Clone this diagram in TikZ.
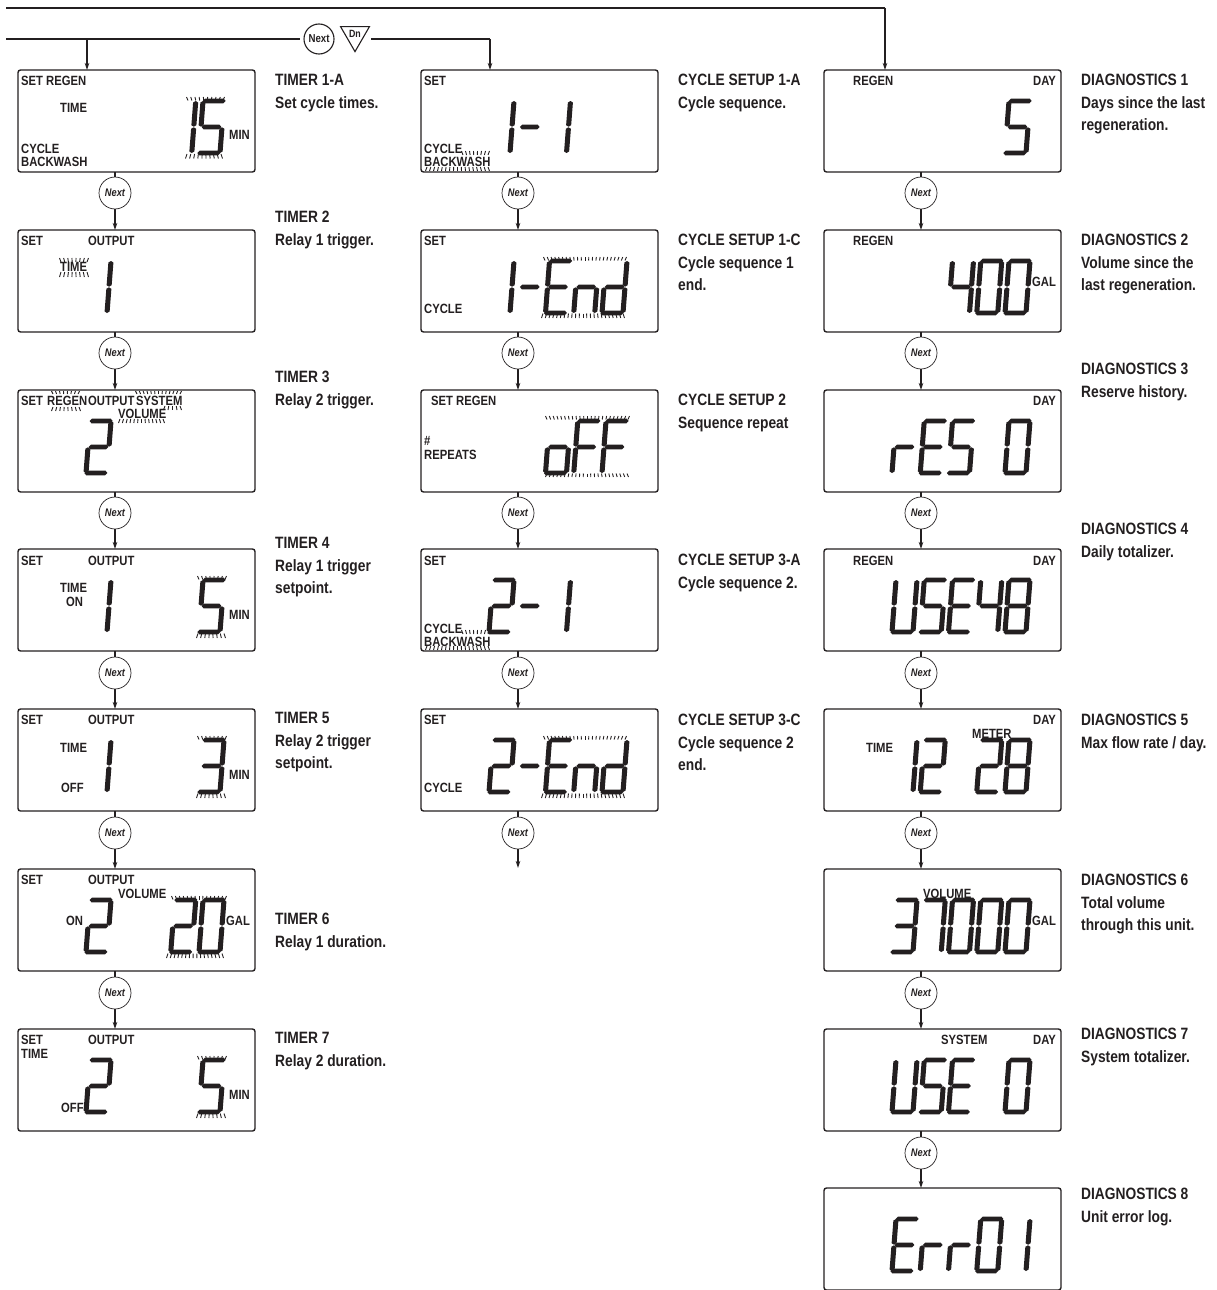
\documentclass[tikz,border=0pt]{standalone}
\usepackage{fontspec}
\setmainfont[FakeStretch=0.84]{Liberation Sans}
\usetikzlibrary{arrows.meta,shapes.geometric}
\definecolor{ink}{HTML}{231F20}
\newcounter{tn}
\tikzset{
  lcdbox/.style={draw=ink,line width=1.4pt,rounded corners=2.5pt,minimum width=237pt,minimum height=102pt,inner sep=0pt,outer sep=0pt,anchor=north west},
  nextc/.style={circle,draw=ink,line width=0.7pt,fill=white,minimum size=32pt,inner sep=0pt,outer sep=0pt,font=\fontsize{11}{11}\selectfont\bfseries\itshape,text=ink},
  conn/.style={draw=ink,line width=1.1pt},
  connarrow/.style={conn,-{Stealth[length=7pt,width=4.5pt]}},
  toplink/.style={draw=ink,line width=1.5pt},
  seg/.style={fill=ink},
  tick/.style={draw=ink,line width=0.9pt},
  dtxt/.style={anchor=base west,inner sep=0pt,text=ink,font=\fontsize{13.4}{14}\selectfont\bfseries},
  lbltxt/.style={anchor=base west,inner sep=0pt,align=left,text=ink,font=\fontsize{16.4}{22.5}\selectfont\bfseries},
}
% tapered display segments, in the slanted unit frame of one digit
\newcommand\vseg[3]{\fill[seg] (#1,#2) -- (#1+.12,#2+.03) -- (#1+.12,#3-.03) -- (#1,#3) -- (#1-.12,#3-.03) -- (#1-.12,#2+.03) -- cycle;}
\newcommand\hseg[3]{\fill[seg] (#1,#3) -- (#1+.1,#3-.045) -- (#2-.1,#3-.045) -- (#2,#3) -- (#2-.1,#3+.045) -- (#1+.1,#3+.045) -- cycle;}
\def\sega{\hseg{-.02}{1.08}{0}}
\def\segb{\vseg{1}{.0}{.495}}
\def\segc{\vseg{1}{.505}{1}}
\def\segd{\hseg{-.08}{1.02}{1}}
\def\sege{\vseg{0}{.505}{1}}
\def\segf{\vseg{0}{.0}{.495}}
\def\segg{\hseg{.03}{.97}{.5}}
\def\gZero{a,b,c,d,e,f}\def\gOne{b,c}\def\gTwo{a,b,g,e,d}\def\gThree{a,b,g,c,d}
\def\gFour{f,g,b,c}\def\gFive{a,f,g,c,d}\def\gSeven{a,b,c}\def\gEight{a,b,c,d,e,f,g}
\def\gDash{g}\def\gU{b,c,d,e,f}\def\gE{a,f,g,e,d}\def\gr{e,g}\def\gn{e,g,c}
\def\gd{b,c,d,e,g}\def\go{c,d,e,g}\def\gF{a,f,g,e}\def\gx{}
% five glyph slots of one display, box left and top given
\newcommand\lcdigits[3]{%
  \foreach \g [count=\c from 0] in {#3}{%
    \edef\glist{\csname g\g\endcsname}%
    \pgfmathsetmacro\dx{#1+68+28.25*\c+4}%
    \pgfmathsetmacro\dy{#2+31}%
    \begin{scope}[shift={(\dx,\dy)},x={(21pt,0pt)},y={(-4pt,-52pt)}]
      \foreach \s in \glist {\csname seg\s\endcsname}
    \end{scope}
  }}
% row of blink ticks: x from, x to, inner y, outer y
\newcommand\tickrow[4]{%
  \pgfmathtruncatemacro\nt{round((#2-#1)/3.7)}%
  \foreach \i in {0,...,\nt}{%
    \pgfmathsetmacro\xx{#1+\i*(#2-#1)/\nt}%
    \pgfmathsetmacro\tk{(\xx-(#1+#2)/2)/((#2-#1)/2)*1.5}%
    \draw[tick] (\xx,#3) -- (\xx+\tk,#4);
  }}
\newcommand\dt[3]{\stepcounter{tn}\node[dtxt] (t\arabic{tn}) at (#1,#2) {#3};}
% label: x, baseline of first line, number of lines, text
\newcommand\lbl[4]{\stepcounter{tn}\node[lbltxt] (t\arabic{tn}) at (#1,#2+22.5*#3-22.5) {#4};}
\newcommand\nx[5]{%
  \node[nextc] (#1) at (#2,#3) {Next};
  \draw[conn] (#4.south -| #1) -- (#1);
  \draw[connarrow] (#1) -- (#5.north -| #1);}
\begin{document}
\begin{tikzpicture}[x=1pt,y=-1pt]
\useasboundingbox (0,0) rectangle (1217,1290);
% boxes
\node[lcdbox] (a1) at (18,70) {};
\node[lcdbox] (a2) at (18,230) {};
\node[lcdbox] (a3) at (18,390) {};
\node[lcdbox] (a4) at (18,549) {};
\node[lcdbox] (a5) at (18,709) {};
\node[lcdbox] (a6) at (18,869) {};
\node[lcdbox] (a7) at (18,1029) {};
\node[lcdbox] (b1) at (421,70) {};
\node[lcdbox] (b2) at (421,230) {};
\node[lcdbox] (b3) at (421,390) {};
\node[lcdbox] (b4) at (421,549) {};
\node[lcdbox] (b5) at (421,709) {};
\node[lcdbox] (c1) at (824,70) {};
\node[lcdbox] (c2) at (824,230) {};
\node[lcdbox] (c3) at (824,390) {};
\node[lcdbox] (c4) at (824,549) {};
\node[lcdbox] (c5) at (824,709) {};
\node[lcdbox] (c6) at (824,869) {};
\node[lcdbox] (c7) at (824,1029) {};
\node[lcdbox] (c8) at (824,1188) {};
% next buttons
\nx{na1}{115}{193}{a1}{a2}
\nx{na2}{115}{353}{a2}{a3}
\nx{na3}{115}{513}{a3}{a4}
\nx{na4}{115}{673}{a4}{a5}
\nx{na5}{115}{833}{a5}{a6}
\nx{na6}{115}{993}{a6}{a7}
\nx{nb1}{518}{193}{b1}{b2}
\nx{nb2}{518}{353}{b2}{b3}
\nx{nb3}{518}{513}{b3}{b4}
\nx{nb4}{518}{673}{b4}{b5}
\node[nextc] (nb5) at (518,833) {Next};
\coordinate (bend) at (518,868);
\draw[conn] (b5.south -| nb5) -- (nb5);
\draw[connarrow] (nb5) -- (bend);
\nx{nc1}{921}{193}{c1}{c2}
\nx{nc2}{921}{353}{c2}{c3}
\nx{nc3}{921}{513}{c3}{c4}
\nx{nc4}{921}{673}{c4}{c5}
\nx{nc5}{921}{833}{c5}{c6}
\nx{nc6}{921}{993}{c6}{c7}
\nx{nc7}{921}{1153}{c7}{c8}
% top routing
\node[circle,draw=ink,line width=1.1pt,minimum size=30pt,inner sep=0pt,outer sep=4pt,text=ink,font=\fontsize{11.5}{11.5}\selectfont\bfseries] (tn) at (319,39) {Next};
\node[regular polygon,regular polygon sides=3,shape border rotate=180,draw=ink,line width=1.1pt,minimum size=32pt,inner sep=0pt,text=ink,font=\fontsize{10.5}{10.5}\selectfont\bfseries] (td) at (355,35) {\raisebox{2pt}{Dn}};
\coordinate (s1) at (6,8);
\coordinate (s2) at (6,39);
\coordinate (tr) at (371,39);
\coordinate (j1) at (87,39);
\coordinate (ina) at (87,70);
\coordinate (inb) at (490,70);
\coordinate (inc) at (885,70);
\draw[toplink] (s1) -- (s1 -| inc);
\draw[connarrow] (s1 -| inc) -- (inc);
\draw[toplink] (s2) -- (tn);
\draw[connarrow] (j1) -- (ina);
\draw[toplink] (tr) -- (tr -| inb);
\draw[connarrow] (tr -| inb) -- (inb);
% digits column A
\lcdigits{18}{70}{x,x,x,One,Five}
\lcdigits{18}{230}{One,x,x,x,x}
\lcdigits{18}{390}{Two,x,x,x,x}
\lcdigits{18}{549}{One,x,x,x,Five}
\lcdigits{18}{709}{One,x,x,x,Three}
\lcdigits{18}{869}{Two,x,x,Two,Zero}
\lcdigits{18}{1029}{Two,x,x,x,Five}
% digits column B
\lcdigits{421}{70}{One,Dash,One,x,x}
\lcdigits{421}{230}{One,Dash,E,n,d}
\lcdigits{421}{390}{x,x,o,F,F}
\lcdigits{421}{549}{Two,Dash,One,x,x}
\lcdigits{421}{709}{Two,Dash,E,n,d}
% digits column C
\lcdigits{824}{70}{x,x,x,x,Five}
\lcdigits{824}{230}{x,x,Four,Zero,Zero}
\lcdigits{824}{390}{r,E,Five,x,Zero}
\lcdigits{824}{549}{U,Five,E,Four,Eight}
\lcdigits{824}{709}{One,Two,x,Two,Eight}
\lcdigits{824}{869}{Three,Seven,Zero,Zero,Zero}
\lcdigits{824}{1029}{U,Five,E,x,Zero}
\lcdigits{824}{1188}{E,r,r,Zero,One}
% blink ticks column A
\tickrow{188}{223}{100.5}{97}\tickrow{187}{221}{154}{158.5}
\tickrow{61}{87}{262}{258}\tickrow{61}{87}{272}{277}
\tickrow{53}{78}{394}{391}\tickrow{53}{79}{407}{411}
\tickrow{137}{180}{394}{391}\tickrow{165}{180}{406}{410}\tickrow{120}{163}{419}{423}
\tickrow{199}{225}{579.5}{576}\tickrow{198}{224}{633.5}{638}
\tickrow{199}{225}{739.5}{736}\tickrow{198}{224}{793.5}{798}
\tickrow{173}{225}{899.5}{896}\tickrow{168}{222}{953.5}{958}
\tickrow{199}{225}{1059.5}{1056}\tickrow{198}{224}{1113.5}{1118}
% blink ticks column B
\tickrow{463}{488}{155}{151}\tickrow{427}{488}{167}{171}
\tickrow{545}{625}{260.5}{257}\tickrow{543}{623}{313.5}{318}
\tickrow{547}{628}{419.5}{416}\tickrow{547}{627}{473.5}{477}
\tickrow{463}{488}{634}{630}\tickrow{427}{488}{646}{650}
\tickrow{545}{625}{739.5}{736}\tickrow{543}{623}{793.5}{798}
% display words column A
\dt{21}{85}{SET REGEN}\dt{60}{112.5}{TIME}\dt{21}{153}{CYCLE}\dt{21}{166.5}{BACKWASH}\dt{229}{139.5}{MIN}
\dt{21}{245}{SET}\dt{88}{245}{OUTPUT}\dt{60}{271}{TIME}
\dt{21}{405}{SET}\dt{47}{405}{REGEN}\dt{88}{405}{OUTPUT}\dt{136}{405}{SYSTEM}\dt{118}{418.5}{VOLUME}
\dt{21}{565}{SET}\dt{88}{565}{OUTPUT}\dt{60}{592}{TIME}\dt{66}{606}{ON}\dt{229}{619}{MIN}
\dt{21}{724}{SET}\dt{88}{724}{OUTPUT}\dt{60}{752}{TIME}\dt{61}{792}{OFF}\dt{229}{779}{MIN}
\dt{21}{884}{SET}\dt{88}{884}{OUTPUT}\dt{118}{898}{VOLUME}\dt{66}{925}{ON}\dt{226}{925}{GAL}
\dt{21}{1044}{SET}\dt{88}{1044}{OUTPUT}\dt{21}{1058}{TIME}\dt{61}{1112}{OFF}\dt{229}{1099}{MIN}
% display words column B
\dt{424}{85}{SET}\dt{424}{153}{CYCLE}\dt{424}{166.5}{BACKWASH}
\dt{424}{245}{SET}\dt{424}{313}{CYCLE}
\dt{431}{405}{SET REGEN}\dt{424}{445}{\#}\dt{424}{459}{REPEATS}
\dt{424}{565}{SET}\dt{424}{633}{CYCLE}\dt{424}{646}{BACKWASH}
\dt{424}{724}{SET}\dt{424}{792}{CYCLE}
% display words column C
\dt{853}{85}{REGEN}\dt{1033}{85}{DAY}
\dt{853}{245}{REGEN}\dt{1032}{286}{GAL}
\dt{1033}{405}{DAY}
\dt{853}{565}{REGEN}\dt{1033}{565}{DAY}
\dt{1033}{724}{DAY}\dt{866}{752}{TIME}\dt{972}{738}{METER}
\dt{923}{898}{VOLUME}\dt{1032}{925}{GAL}
\dt{941}{1044}{SYSTEM}\dt{1033}{1044}{DAY}
% labels
\lbl{275}{85.5}{2}{TIMER 1-A\\Set cycle times.}
\lbl{275}{222.5}{2}{TIMER 2\\Relay 1 trigger.}
\lbl{275}{382.5}{2}{TIMER 3\\Relay 2 trigger.}
\lbl{275}{548.5}{3}{TIMER 4\\Relay 1 trigger\\setpoint.}
\lbl{275}{723.5}{3}{TIMER 5\\Relay 2 trigger\\setpoint.}
\lbl{275}{924.5}{2}{TIMER 6\\Relay 1 duration.}
\lbl{275}{1043.5}{2}{TIMER 7\\Relay 2 duration.}
\lbl{678}{85.5}{2}{CYCLE SETUP 1-A\\Cycle sequence.}
\lbl{678}{245.5}{3}{CYCLE SETUP 1-C\\Cycle sequence 1\\end.}
\lbl{678}{405.5}{2}{CYCLE SETUP 2\\Sequence repeat}
\lbl{678}{565.5}{2}{CYCLE SETUP 3-A\\Cycle sequence 2.}
\lbl{678}{725.5}{3}{CYCLE SETUP 3-C\\Cycle sequence 2\\end.}
\lbl{1081}{85.5}{3}{DIAGNOSTICS 1\\Days since the last\\regeneration.}
\lbl{1081}{245.5}{3}{DIAGNOSTICS 2\\Volume since the\\last regeneration.}
\lbl{1081}{374.5}{2}{DIAGNOSTICS 3\\Reserve history.}
\lbl{1081}{534.5}{2}{DIAGNOSTICS 4\\Daily totalizer.}
\lbl{1081}{725.5}{2}{DIAGNOSTICS 5\\Max flow rate / day.}
\lbl{1081}{885.5}{3}{DIAGNOSTICS 6\\Total volume\\through this unit.}
\lbl{1081}{1039.5}{2}{DIAGNOSTICS 7\\System totalizer.}
\lbl{1081}{1199.5}{2}{DIAGNOSTICS 8\\Unit error log.}
\end{tikzpicture}
\end{document}
